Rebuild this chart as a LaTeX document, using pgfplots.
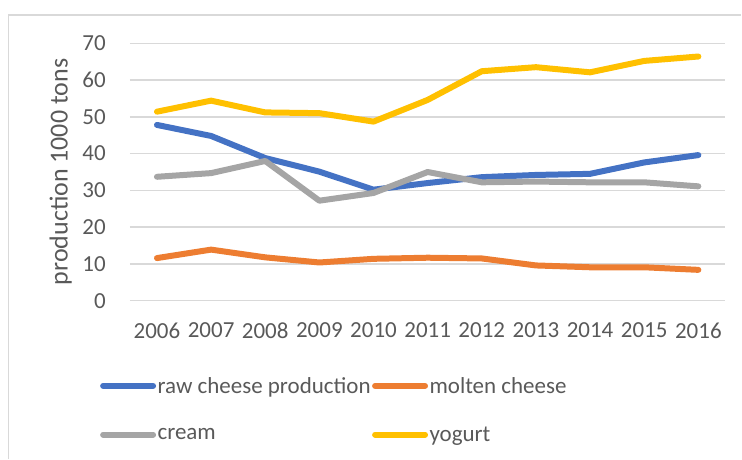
\documentclass[border=0pt]{standalone}
\usepackage{pgfplots}
\pgfplotsset{compat=1.18}
\usepackage{fontspec}
\setmainfont{Carlito}
\definecolor{cblue}{HTML}{4472C4}
\definecolor{corange}{HTML}{ED7D31}
\definecolor{cgray}{HTML}{A5A5A5}
\definecolor{cyellow}{HTML}{FFC000}
\definecolor{ctext}{HTML}{595959}
\definecolor{cgrid}{HTML}{D9D9D9}
\begin{document}
\begin{tikzpicture}
\path (0pt,0pt) rectangle (742pt,459pt);
\draw[cgrid, line width=1.2pt] (8.5pt,0pt) -- (8.5pt,444pt) -- (742pt,444pt);
\begin{axis}[
  at={(130pt,158pt)}, anchor=south west,
  scale only axis, width=596pt, height=257.7pt,
  xmin=-0.5, xmax=10.5, ymin=0, ymax=70,
  xtick={0,...,10},
  xticklabels={2006,2007,2008,2009,2010,2011,2012,2013,2014,2015,2016},
  ytick={0,10,...,70},
  axis line style={draw=none},
  major tick length=0pt,
  ymajorgrids, grid style={cgrid, line width=1.4pt},
  /pgf/number format/assume math mode=true,
  tick label style={font=\fontsize{23}{27}\selectfont, text=ctext},
  y tick label style={anchor=east, inner sep=0pt, xshift=-24pt},
  x tick label style={anchor=north, inner sep=0pt, yshift=-22pt},
  ylabel={production 1000 tons},
  ylabel style={font=\fontsize{26}{30}\selectfont, text=ctext, at={(axis description cs:-0.116,0.5)}, anchor=center},
  legend columns=2,
  legend cell align=left,
  legend style={draw=none, fill=none, at={(axis description cs:-0.0503,-0.29)}, anchor=north west,
    font=\fontsize{23}{27}\selectfont, text=ctext, inner sep=0pt,
    nodes={inner sep=1.5pt}, row sep=29pt,
    /tikz/every even column/.append style={column sep=0pt}},
  legend image code/.code={\draw[#1, line cap=round] (0pt,0pt) -- (50pt,0pt);},
  every axis plot/.append style={line width=6pt, line cap=round, line join=round},
  clip=false
]
\addplot[cblue] coordinates {(0,47.8) (1,44.8) (2,38.8) (3,35.1) (4,30.2) (5,32.0) (6,33.6) (7,34.2) (8,34.5) (9,37.6) (10,39.6)};
\addlegendentry{raw cheese production}
\addplot[corange] coordinates {(0,11.6) (1,13.9) (2,11.8) (3,10.4) (4,11.4) (5,11.7) (6,11.5) (7,9.6) (8,9.1) (9,9.1) (10,8.4)};
\addlegendentry{molten cheese}
\addplot[cgray] coordinates {(0,33.7) (1,34.7) (2,38.0) (3,27.2) (4,29.3) (5,35.0) (6,32.2) (7,32.4) (8,32.2) (9,32.2) (10,31.1)};
\addlegendentry{cream}
\addplot[cyellow] coordinates {(0,51.4) (1,54.4) (2,51.2) (3,51.0) (4,48.7) (5,54.6) (6,62.4) (7,63.5) (8,62.1) (9,65.2) (10,66.4)};
\addlegendentry{yogurt}
\end{axis}
\end{tikzpicture}
\end{document}
